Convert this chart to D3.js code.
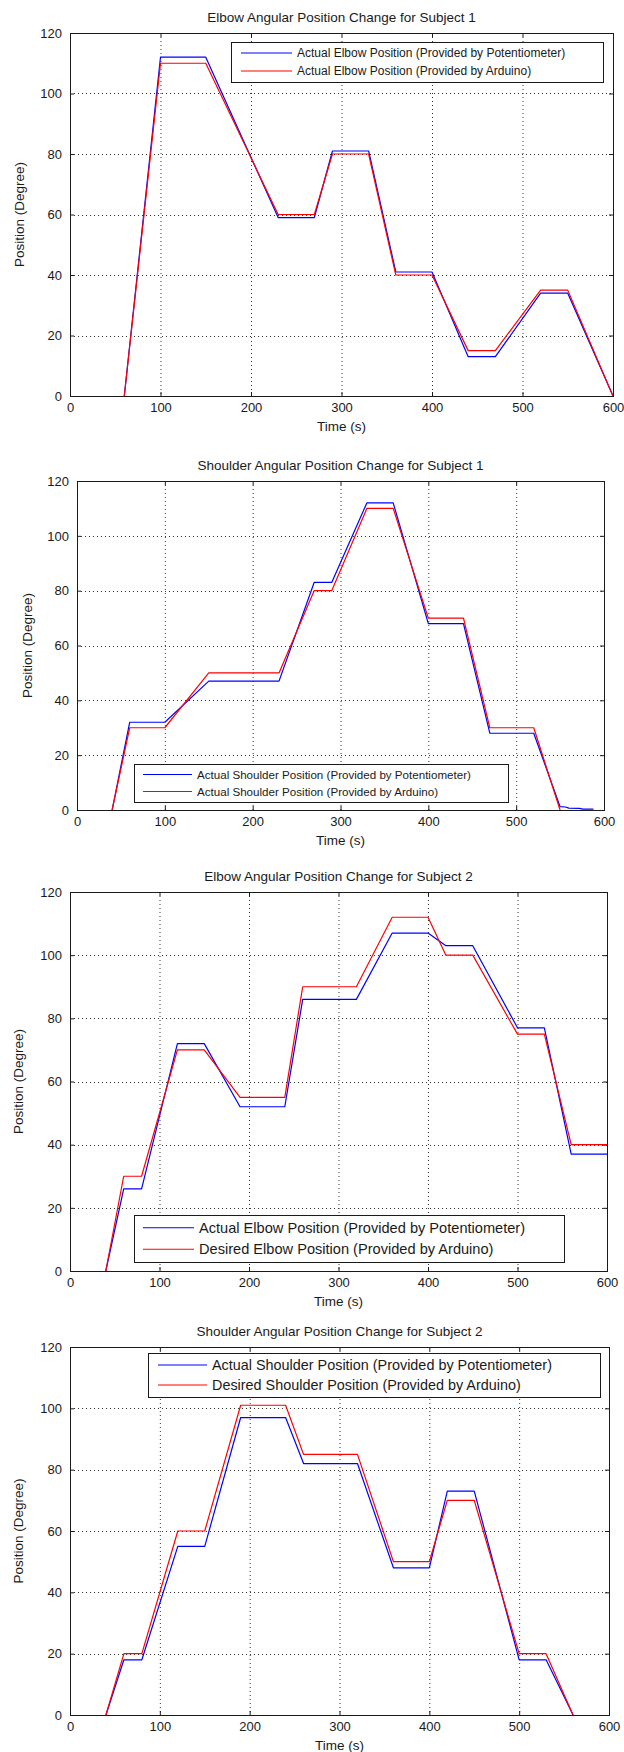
<!DOCTYPE html>
<html>
<head>
<meta charset="utf-8">
<script src="https://cdn.jsdelivr.net/npm/d3@7/dist/d3.min.js"></script>
<style>
  html, body { margin: 0; padding: 0; background: #fff; }
  text { font-family: "Liberation Sans", Arial, Helvetica, sans-serif; fill: #1a1a1a; }
</style>
</head>
<body>
<div id="chart"></div>
<script>
// tick labels shared by all four panels
const xTicks = [0, 100, 200, 300, 400, 500, 600];
const yTicks = [0, 20, 40, 60, 80, 100, 120];

const titles = [
  "Elbow Angular Position Change for Subject 1",
  "Shoulder Angular Position Change for Subject 1",
  "Elbow Angular Position Change for Subject 2",
  "Shoulder Angular Position Change for Subject 2"
];

// panel 1 - elbow, subject 1
const elbow1Time = [60, 100, 150, 230, 270, 290, 330, 360, 400, 440, 470, 520, 550, 600];
const elbow1Pot  = [0, 112, 112, 59, 59, 81, 81, 41, 41, 13, 13, 34, 34, 0];
const elbow1Ard  = [0, 110, 110, 60, 60, 80, 80, 40, 40, 15, 15, 35, 35, 0];

// panel 2 - shoulder, subject 1
const shoulder1PotTime = [40, 60, 100, 150, 230, 270, 290, 330, 360, 400, 440, 470, 520, 550, 556, 560, 572, 576, 588];
const shoulder1Pot     = [0, 32, 32, 47, 47, 83, 83, 112, 112, 68, 68, 28, 28, 1.2, 1.1, 0.7, 0.6, 0.3, 0.3];
const shoulder1ArdTime = [40, 60, 100, 150, 230, 270, 290, 330, 360, 400, 440, 470, 520, 550];
const shoulder1Ard     = [0, 30, 30, 50, 50, 80, 80, 110, 110, 70, 70, 30, 30, 0];

// panel 3 - elbow, subject 2
const elbow2Time = [40, 60, 80, 120, 150, 190, 240, 260, 320, 360, 400, 420, 450, 500, 530, 560, 600];
const elbow2Pot  = [0, 26, 26, 72, 72, 52, 52, 86, 86, 107, 107, 103, 103, 77, 77, 37, 37];
const elbow2Ard  = [0, 30, 30, 70, 70, 55, 55, 90, 90, 112, 112, 100, 100, 75, 75, 40, 40];

// panel 4 - shoulder, subject 2
const shoulder2Time = [40, 60, 80, 120, 150, 190, 240, 260, 320, 360, 400, 420, 450, 500, 530, 560];
const shoulder2Pot  = [0, 18, 18, 55, 55, 97, 97, 82, 82, 48, 48, 73, 73, 18, 18, 0];
const shoulder2Ard  = [0, 20, 20, 60, 60, 101, 101, 85, 85, 50, 50, 70, 70, 20, 20, 0];

const legendLabels = [
  ["Actual Elbow Position (Provided by Potentiometer)", "Actual Elbow Position (Provided by Arduino)"],
  ["Actual Shoulder Position (Provided by Potentiometer)", "Actual Shoulder Position (Provided by Arduino)"],
  ["Actual Elbow Position (Provided by Potentiometer)", "Desired Elbow Position (Provided by Arduino)"],
  ["Actual Shoulder Position (Provided by Potentiometer)", "Desired Shoulder Position (Provided by Arduino)"]
];

const seriesColors = ["#0000ff", "#ff0000"];

const zip = (t, v) => t.map((d, i) => ({ t: d, v: v[i] }));

const panelSeries = [
  [zip(elbow1Time, elbow1Pot), zip(elbow1Time, elbow1Ard)],
  [zip(shoulder1PotTime, shoulder1Pot), zip(shoulder1ArdTime, shoulder1Ard)],
  [zip(elbow2Time, elbow2Pot), zip(elbow2Time, elbow2Ard)],
  [zip(shoulder2Time, shoulder2Pot), zip(shoulder2Time, shoulder2Ard)]
];

// where each axes box sits on the page
const layout = [
  { left: 70, right: 613, top: 33, bottom: 396, ylabX: 24, legend: { x: 231, y: 42, w: 372, h: 40, fs: 12, line: [241, 292] } },
  { left: 77, right: 604, top: 481, bottom: 810, ylabX: 32, legend: { x: 134, y: 764, w: 374, h: 38, fs: 11.6, line: [143, 192] } },
  { left: 70, right: 607, top: 892, bottom: 1271, ylabX: 23, legend: { x: 134, y: 1215, w: 430, h: 47, fs: 14.6, line: [143, 194] } },
  { left: 70, right: 609, top: 1347, bottom: 1715, ylabX: 23, legend: { x: 148, y: 1353, w: 452, h: 44, fs: 14.4, line: [158, 207] } }
];

const svg = d3.select("#chart").append("svg")
  .attr("width", 624)
  .attr("height", 1752);

svg.append("rect").attr("width", 624).attr("height", 1752).attr("fill", "#fff");

layout.forEach((L, p) => {
  const w = L.right - L.left;
  const h = L.bottom - L.top;

  const x = d3.scaleLinear().domain([0, 600]).range([0, w]);
  const y = d3.scaleLinear().domain([0, 120]).range([h, 0]);

  const g = svg.append("g").attr("transform", `translate(${L.left},${L.top})`);

  // dotted grid
  g.append("g")
    .selectAll("line.gx")
    .data(xTicks.slice(1, -1))
    .join("line")
    .attr("x1", d => x(d) + 0.5).attr("x2", d => x(d) + 0.5)
    .attr("y1", 0).attr("y2", h)
    .attr("stroke", "#333").attr("stroke-dasharray", "1,3");

  g.append("g")
    .selectAll("line.gy")
    .data(yTicks.slice(1, -1))
    .join("line")
    .attr("x1", 0).attr("x2", w)
    .attr("y1", d => Math.round(y(d)) + 0.5).attr("y2", d => Math.round(y(d)) + 0.5)
    .attr("stroke", "#333").attr("stroke-dasharray", "1,3");

  // axes, ticks pointing inward on all sides
  const xb = g.append("g").attr("transform", `translate(0,${h})`)
    .call(d3.axisBottom(x).tickValues(xTicks).tickSizeInner(-4).tickSizeOuter(0).tickPadding(7));
  const yl = g.append("g")
    .call(d3.axisLeft(y).tickValues(yTicks).tickSizeInner(-4).tickSizeOuter(0).tickPadding(8));
  g.append("g")
    .call(d3.axisTop(x).tickValues(xTicks).tickSizeInner(-4).tickSizeOuter(0).tickFormat(""));
  g.append("g").attr("transform", `translate(${w},0)`)
    .call(d3.axisRight(y).tickValues(yTicks).tickSizeInner(-4).tickSizeOuter(0).tickFormat(""));

  g.selectAll(".domain").attr("stroke", "none");
  g.selectAll(".tick line").attr("stroke", "#1a1a1a");
  g.selectAll(".tick text")
    .attr("font-family", "'Liberation Sans', Arial, sans-serif")
    .attr("font-size", 13)
    .attr("fill", "#1a1a1a");

  // clip the data lines to the axes box
  const clipId = "clip" + p;
  g.append("clipPath").attr("id", clipId)
    .append("rect").attr("width", w).attr("height", h + 1);

  const line = d3.line().x(d => x(d.t)).y(d => y(d.v));

  panelSeries[p].forEach((s, i) => {
    g.append("path")
      .datum(s)
      .attr("clip-path", `url(#${clipId})`)
      .attr("fill", "none")
      .attr("stroke", seriesColors[i])
      .attr("stroke-width", 1.2)
      .attr("stroke-linejoin", "round")
      .attr("d", line);
  });

  // axes box
  g.append("rect")
    .attr("x", 0.5).attr("y", 0.5)
    .attr("width", w).attr("height", h)
    .attr("fill", "none")
    .attr("stroke", "#1a1a1a");

  // title and labels
  svg.append("text")
    .attr("x", L.left + w / 2).attr("y", L.top - 11)
    .attr("text-anchor", "middle")
    .attr("font-size", 13.5)
    .text(titles[p]);

  svg.append("text")
    .attr("x", L.left + w / 2).attr("y", L.bottom + 35)
    .attr("text-anchor", "middle")
    .attr("font-size", 13.5)
    .text("Time (s)");

  svg.append("text")
    .attr("transform", `translate(${L.ylabX},${L.top + h / 2}) rotate(-90)`)
    .attr("text-anchor", "middle")
    .attr("font-size", 13.5)
    .text("Position (Degree)");

  // legend
  const lg = L.legend;
  const leg = svg.append("g");
  leg.append("rect")
    .attr("x", lg.x + 0.5).attr("y", lg.y + 0.5)
    .attr("width", lg.w).attr("height", lg.h)
    .attr("fill", "#fff")
    .attr("stroke", "#1a1a1a");

  const rowGap = lg.h / 2;
  legendLabels[p].forEach((lab, i) => {
    const cy = lg.y + rowGap * (i + 0.5) + (i === 0 ? 1 : -1);
    leg.append("line")
      .attr("x1", lg.line[0]).attr("x2", lg.line[1])
      .attr("y1", cy).attr("y2", cy)
      .attr("stroke", seriesColors[i])
      .attr("stroke-width", 1.2);
    leg.append("text")
      .attr("x", lg.line[1] + 5)
      .attr("y", cy)
      .attr("dy", "0.35em")
      .attr("font-size", lg.fs)
      .text(lab);
  });
});
</script>
</body>
</html>
